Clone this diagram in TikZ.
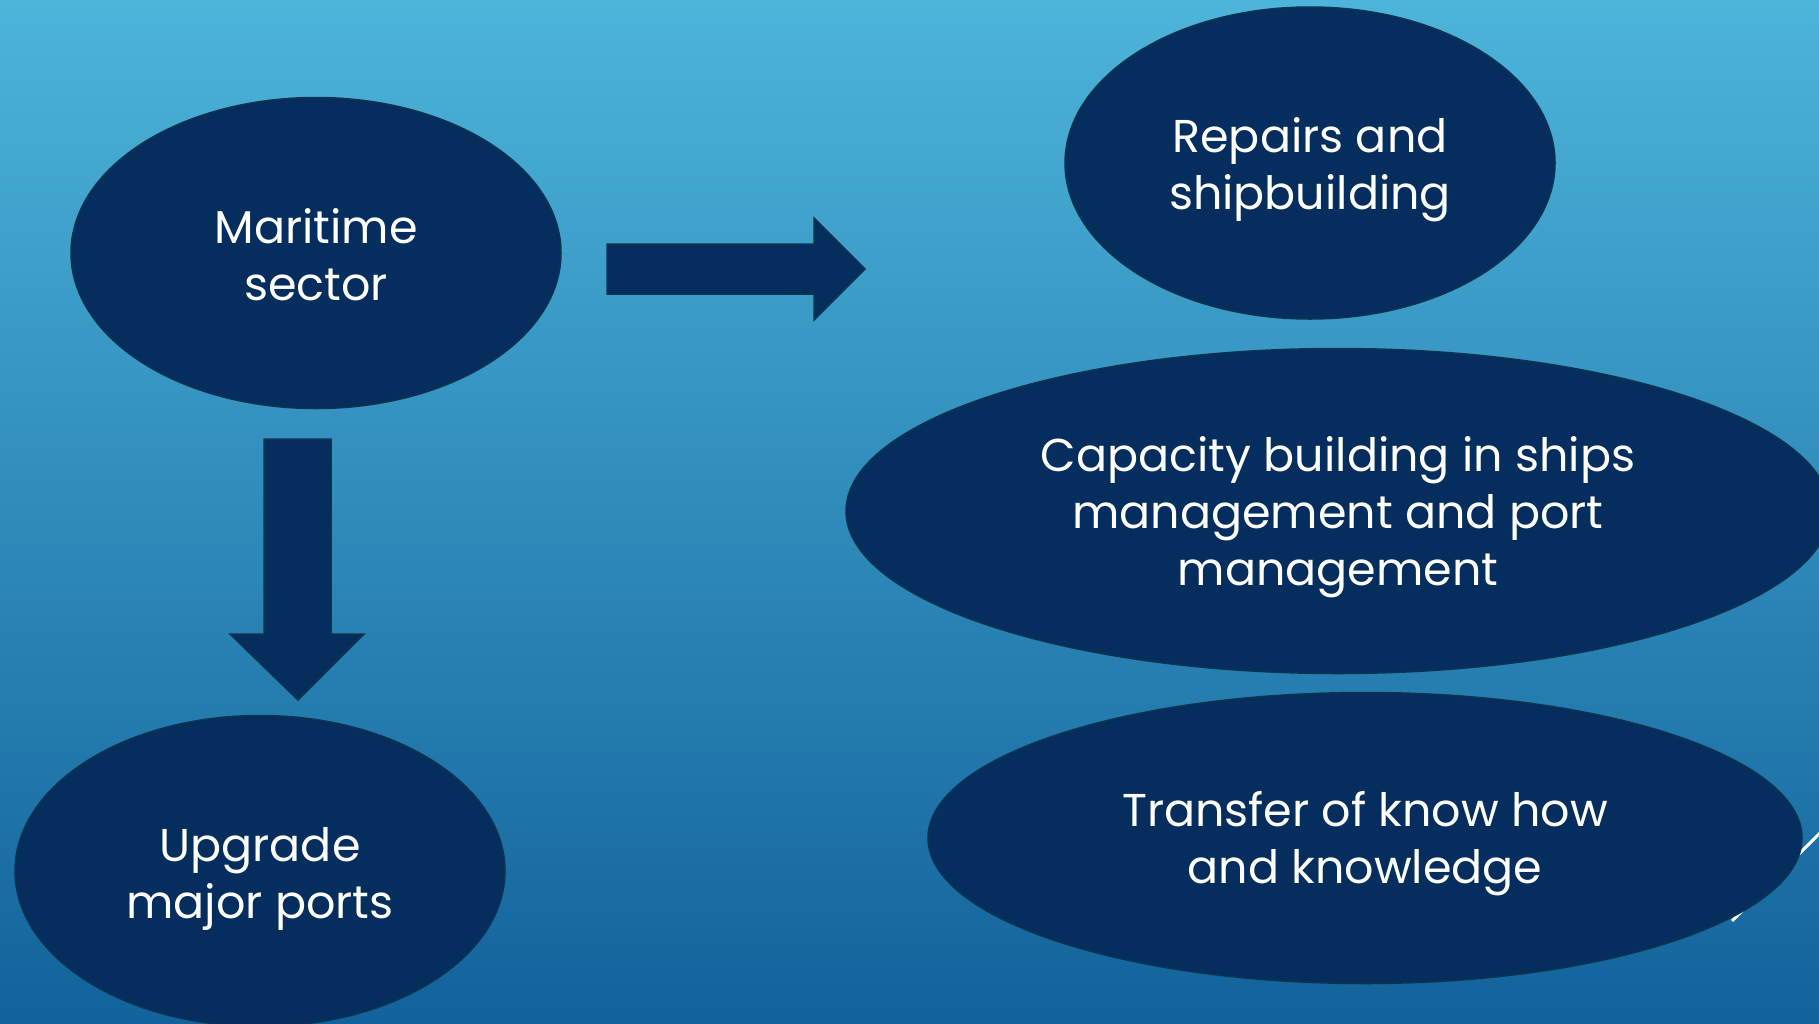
\documentclass[tikz,border=0pt]{standalone}
\usepackage{fontspec}
\setmainfont{Poppins}
\usetikzlibrary{shapes.geometric}
\definecolor{bgtop}{HTML}{4DB4DA}
\definecolor{bgbot}{HTML}{12629B}
\definecolor{navy}{HTML}{052D5D}
\definecolor{navyedge}{HTML}{0A3550}
\tikzset{
  oval/.style={ellipse, fill=navy, draw=navyedge, line width=1.5pt, inner sep=0pt},
  ovaltext/.style={text=white, align=center, inner sep=0pt, font=\fontsize{46}{57}\selectfont},
  blockarrow/.style={fill=navy, draw=navyedge, line width=1.5pt, line join=miter}
}
\begin{document}
\begin{tikzpicture}[x=1pt,y=-1pt]
\useasboundingbox (0,0) rectangle (1819,1023);
\begin{scope}
\clip (0,0) rectangle (1819,1023);
\shade[top color=bgtop, bottom color=bgbot] (0,0) rectangle (1819,1023);
\draw[white, line width=3pt] (1732,921) -- (1840,813);
\node[oval, minimum width=490pt, minimum height=311pt] (maritime) at (316,253) {};
\node[oval, minimum width=490pt, minimum height=312pt] (repairs) at (1310,163) {};
\node[oval, minimum width=984pt, minimum height=325pt] (capacity) at (1338,511) {};
\node[oval, minimum width=874pt, minimum height=291pt] (transfer) at (1365,838) {};
\node[oval, minimum width=490pt, minimum height=311pt] (upgrade) at (260,871) {};
\node[ovaltext] (maritimetext) at ([yshift=-1.5pt]maritime.center) {Maritime\\sector};
\node[ovaltext] (repairstext) at ([yshift=-7pt]repairs.center) {Repairs and\\shipbuilding};
\node[ovaltext] (capacitytext) at ([yshift=-6pt]capacity.center) {Capacity building in ships\\management and port\\management};
\node[ovaltext] (transfertext) at ([yshift=-6pt]transfer.center) {Transfer of know how\\and knowledge};
\node[ovaltext] (upgradetext) at ([yshift=-8pt]upgrade.center) {Upgrade\\major ports};
\draw[blockarrow] (607,244) -- (814,244) -- (814,218) -- (865,269) -- (814,320) -- (814,294) -- (607,294) -- cycle;
\draw[blockarrow] (264,439) -- (331,439) -- (331,634) -- (364,634) -- (298,700) -- (230,634) -- (264,634) -- cycle;
\end{scope}
\end{tikzpicture}
\end{document}
